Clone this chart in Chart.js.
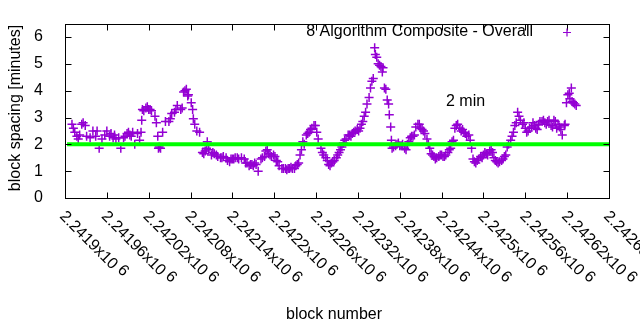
<!DOCTYPE html>
<html>
<head>
<meta charset="utf-8">
<script src="https://cdn.jsdelivr.net/npm/chart.js@4.4.1/dist/chart.umd.min.js"></script>
<style>
  html, body { margin: 0; padding: 0; background: #fff; }
  #wrap { width: 640px; height: 330px; }
</style>
</head>
<body>
<div id="wrap"><canvas id="chart" width="640" height="330"></canvas></div>
<script>
// block numbers are stored as offsets from the first labelled block
const blockBase = 2241900;

// main trace
const blocksMain = [
  10, 14, 19, 21, 24, 29, 31, 36, 40, 44,
  49, 53, 57, 60, 64, 69, 73, 77, 80, 84,
  89, 93, 97, 100, 104, 109, 111, 116, 120, 124,
  129, 131, 134, 137, 140, 144, 149, 153, 157, 161,
  166, 170, 174, 177, 181, 184, 189, 193, 197, 201,
  206, 210, 214, 219, 223, 227, 231, 236, 240, 244,
  249, 253, 257, 261, 266, 270, 274, 277, 281, 286,
  290, 294, 299, 303, 307, 311, 316, 320, 324, 329,
  333, 337, 341, 346, 350, 354, 359, 363, 367, 371,
  376, 380, 384, 389, 393, 397, 401, 406, 410, 414,
  419, 423, 427, 431, 436, 440, 444, 447, 451, 456,
  460, 464, 467, 471, 476, 480, 484, 489, 493, 497,
  501, 506, 510, 514, 519, 523, 527, 531, 536, 540,
  544, 549, 553, 557, 561, 566, 570, 574, 579, 583,
  587, 591, 596, 600, 604, 609, 613, 617, 621, 626,
  630, 634, 639, 643, 647, 651, 656, 660, 664, 669,
  673, 677, 681, 686, 690, 694, 699, 703, 707, 711,
  716, 719, 721, 726, 729, 733
];
const spacingMain = [
  2.75, 2.45, 2.2, 2.35, 2.75, 2.7, 2.3, 2.25, 2.5, 2.3,
  1.85, 2.2, 2.35, 2.5, 2.3, 2.25, 2.2, 2.25, 1.85, 2.25,
  2.4, 2.35, 2.45, 2.0, 2.4, 2.45, 3.3, 3.35, 3.3, 3.25,
  3.05, 2.8, 1.85, 1.85, 2.45, 2.85, 2.85, 3.15, 3.2, 3.45,
  3.3, 3.95, 4.05, 3.85, 3.55, 2.95, 2.5, 2.45, 1.7, 1.75,
  1.8, 1.6, 1.65, 1.55, 1.5, 1.55, 1.5, 1.35, 1.45, 1.5,
  1.45, 1.5, 1.45, 1.3, 1.25, 1.2, 1.25, 1.0, 1.45, 1.55,
  1.8, 1.6, 1.6, 1.4, 1.2, 1.1, 1.1, 1.1, 1.15, 1.1,
  1.25, 1.6, 2.1, 2.35, 2.45, 2.6, 2.7, 2.2, 1.85, 1.6,
  1.4, 1.2, 1.35, 1.5, 1.7, 1.9, 2.15, 2.35, 2.3, 2.45,
  2.55, 2.6, 2.85, 3.2, 3.75, 4.35, 5.6, 5.25, 4.95, 4.85,
  4.05, 3.5, 2.65, 1.9, 2.0, 1.95, 2.0, 1.8, 2.1, 2.3,
  2.35, 2.75, 2.6, 2.5, 2.2, 1.85, 1.6, 1.45, 1.55, 1.6,
  1.55, 1.7, 1.85, 2.15, 2.7, 2.6, 2.55, 2.4, 2.35, 1.85,
  1.35, 1.4, 1.55, 1.6, 1.65, 1.75, 1.7, 1.4, 1.3, 1.4,
  1.55, 1.9, 2.15, 2.45, 2.8, 3.05, 2.75, 2.6, 2.5, 2.65,
  2.7, 2.55, 2.85, 2.9, 2.75, 2.9, 2.65, 2.85, 2.75, 2.55,
  2.7, 3.55, 3.85, 4.1, 3.55, 3.45
];

// second pass: the spread inside each cluster and stray points
const blocksExtra = [
  12, 17, 26, 46, 66, 71, 86, 91, 95, 107,
  110, 113, 118, 122, 133, 135, 151, 159, 168, 172,
  176, 183, 186, 199, 203, 204, 212, 217, 225, 233,
  238, 242, 247, 259, 264, 268, 272, 283, 288, 292,
  296, 301, 305, 313, 318, 322, 326, 331, 335, 339,
  343, 348, 352, 357, 361, 369, 374, 378, 382, 386,
  391, 395, 399, 403, 408, 412, 416, 421, 425, 429,
  433, 438, 442, 445, 449, 453, 455, 458, 462, 465,
  468, 469, 474, 478, 482, 487, 491, 495, 499, 503,
  508, 512, 516, 521, 525, 529, 533, 538, 542, 546,
  551, 555, 559, 563, 568, 572, 576, 581, 585, 589,
  593, 598, 602, 606, 611, 615, 619, 623, 628, 632,
  636, 641, 645, 649, 653, 658, 662, 666, 671, 675,
  679, 684, 688, 692, 697, 701, 705, 709, 713, 717,
  723, 724, 727, 731
];
const spacingExtra = [
  2.6, 2.3, 2.8, 2.5, 2.4, 2.35, 2.3, 2.45, 2.3, 2.15,
  2.9, 3.25, 3.4, 3.3, 2.3, 1.9, 2.95, 3.3, 3.35, 4.0,
  3.8, 3.3, 2.75, 1.65, 1.85, 2.1, 1.7, 1.6, 1.5, 1.4,
  1.45, 1.45, 1.5, 1.3, 1.2, 1.25, 1.3, 1.5, 1.75, 1.65,
  1.55, 1.55, 1.35, 1.1, 1.05, 1.1, 1.1, 1.2, 1.3, 1.8,
  2.0, 2.4, 2.55, 2.7, 2.45, 1.7, 1.5, 1.25, 1.3, 1.4,
  1.6, 1.8, 2.05, 2.2, 2.35, 2.4, 2.5, 2.5, 2.75, 3.05,
  3.5, 4.1, 4.45, 5.35, 5.0, 4.9, 4.7, 4.1, 3.65, 3.1,
  2.15, 1.85, 1.95, 2.05, 1.95, 1.85, 2.0, 2.25, 2.3, 2.65,
  2.75, 2.55, 2.4, 2.0, 1.65, 1.55, 1.5, 1.6, 1.55, 1.6,
  1.8, 2.1, 2.6, 2.75, 2.5, 2.45, 2.3, 2.15, 1.45, 1.3,
  1.45, 1.5, 1.7, 1.6, 1.8, 1.5, 1.35, 1.35, 1.45, 1.6,
  2.0, 2.3, 2.7, 3.2, 2.9, 2.8, 2.45, 2.6, 2.8, 2.6,
  2.75, 2.85, 2.8, 2.85, 2.7, 2.9, 2.6, 2.65, 2.35, 2.75,
  3.9, 3.7, 3.6, 3.5
];

// 2 minute target line
const targetSpacing = 2;
const targetFrom = 2241903;
const targetTo = 2242680;

// axes
const tickBlocks = [2241900, 2241960, 2242020, 2242080, 2242140, 2242200, 2242260,
  2242320, 2242380, 2242440, 2242500, 2242560, 2242620, 2242680];
const tickMantissa = ['2.2419', '2.24196', '2.24202', '2.24208', '2.24214', '2.2422', '2.24226',
  '2.24232', '2.24238', '2.24244', '2.2425', '2.24256', '2.24262', '2.24268'];
const tickExponent = '6';
const yTicks = [0, 1, 2, 3, 4, 5, 6];

const seriesName = '8 Algorithm Composite - Overall';
const targetLabel = '2 min';
const xTitle = 'block number';
const yTitle = 'block spacing [minutes]';

const FONT = '"Liberation Sans", Arial, sans-serif';
const VIOLET = '#9400d3';

const points = blocksMain.map((b, i) => ({x: blockBase + b, y: spacingMain[i]}))
  .concat(blocksExtra.map((b, i) => ({x: blockBase + b, y: spacingExtra[i]})));

const frame = {
  id: 'frame',
  afterDraw(chart) {
    const {ctx, chartArea: a, scales: {x, y}} = chart;
    const L = Math.round(a.left) + 0.5, R = Math.round(a.right) + 0.5;
    const T = Math.round(a.top) + 0.5, B = Math.round(a.bottom) + 0.5;
    ctx.save();
    ctx.strokeStyle = '#000';
    ctx.lineWidth = 1;
    ctx.strokeRect(L, T, R - L, B - T);
    ctx.beginPath();
    tickBlocks.forEach(v => {
      const px = Math.round(x.getPixelForValue(v)) + 0.5;
      ctx.moveTo(px, B); ctx.lineTo(px, B - 6);
      ctx.moveTo(px, T); ctx.lineTo(px, T + 6);
    });
    yTicks.forEach(v => {
      const py = Math.round(y.getPixelForValue(v)) + 0.5;
      ctx.moveTo(L, py); ctx.lineTo(L + 6, py);
      ctx.moveTo(R, py); ctx.lineTo(R - 6, py);
    });
    ctx.stroke();

    ctx.fillStyle = '#000';
    ctx.font = '16px ' + FONT;
    ctx.textAlign = 'left';
    ctx.textBaseline = 'middle';
    tickBlocks.forEach((v, i) => {
      const px = x.getPixelForValue(v);
      const txt = tickMantissa[i] + 'x10';
      ctx.save();
      ctx.translate(px - 3, 214);
      ctx.rotate(Math.PI / 4);
      ctx.fillText(txt, 0, 0);
      const w = ctx.measureText(txt).width;
      ctx.fillText(tickExponent, w + 4, -3);
      ctx.restore();
    });

    // legend
    ctx.textAlign = 'right';
    ctx.fillText(seriesName, 533, 32);
    ctx.strokeStyle = VIOLET;
    ctx.lineWidth = 1.2;
    ctx.beginPath();
    ctx.moveTo(563, 32.5); ctx.lineTo(571, 32.5);
    ctx.moveTo(567, 28.5); ctx.lineTo(567, 36.5);
    ctx.stroke();

    ctx.textAlign = 'left';
    ctx.fillText(targetLabel, 446, 102);

    ctx.textAlign = 'center';
    ctx.fillText(xTitle, 334, 315);
    ctx.save();
    ctx.translate(16, 108);
    ctx.rotate(-Math.PI / 2);
    ctx.fillText(yTitle, 0, 0);
    ctx.restore();
    ctx.restore();
  }
};

new Chart(document.getElementById('chart'), {
  type: 'scatter',
  data: {
    datasets: [
      {
        label: seriesName,
        data: points,
        pointStyle: 'cross',
        pointRadius: 4.5,
        pointBorderWidth: 1.5,
        borderColor: VIOLET,
        backgroundColor: VIOLET,
        order: 1
      },
      {
        label: targetLabel,
        data: [{x: targetFrom, y: targetSpacing}, {x: targetTo, y: targetSpacing}],
        showLine: true,
        pointRadius: 0,
        borderColor: '#00ff00',
        borderWidth: 4,
        order: 0
      }
    ]
  },
  options: {
    responsive: false,
    animation: false,
    layout: {padding: {left: 0, top: 19, right: 31, bottom: 0}},
    plugins: {legend: {display: false}, tooltip: {enabled: false}},
    scales: {
      x: {
        type: 'linear',
        min: 2241900,
        max: 2242680,
        grid: {display: false},
        border: {display: false},
        ticks: {display: false},
        afterFit(scale) { scale.height = 132; }
      },
      y: {
        min: 0,
        max: 6.5,
        grid: {display: false},
        border: {display: false},
        afterBuildTicks(scale) { scale.ticks = yTicks.map(v => ({value: v})); },
        ticks: {color: '#000', padding: 14, font: {family: FONT, size: 16}},
        afterFit(scale) { scale.width = 65; }
      }
    }
  },
  plugins: [frame]
});
</script>
</body>
</html>
